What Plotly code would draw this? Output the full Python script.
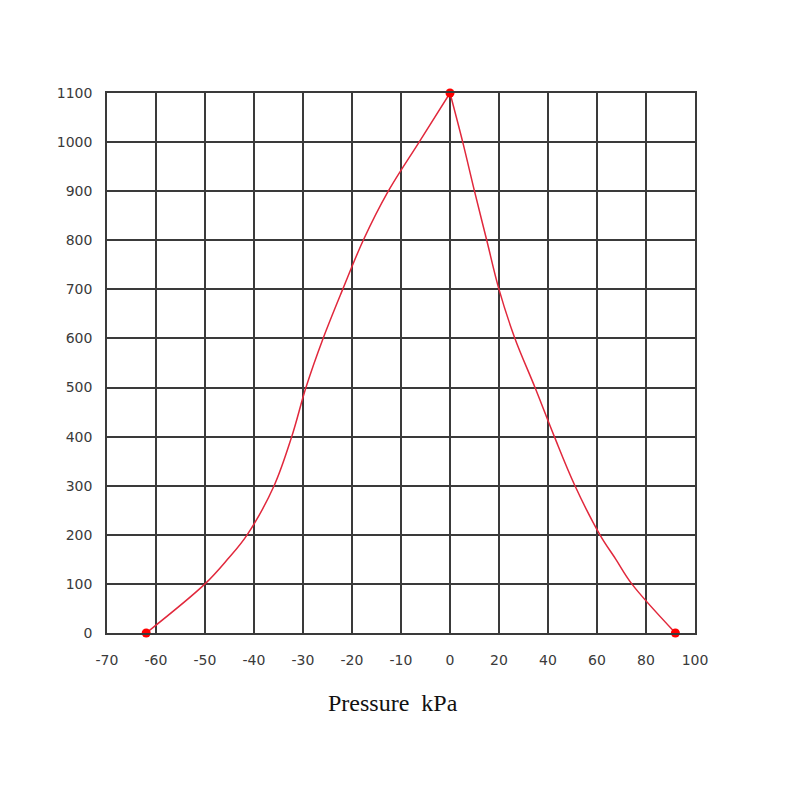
import plotly.graph_objects as go

# Pressure (kPa) vs value
left_pressure = [-62, -50, -45.4, -41.4, -35.9, -32.3, -29.4, -25.9, -21.9, -17.7,
                 -12.6, -6.3, 0]
left_values = [0, 100, 150, 200, 300, 400, 500, 600, 700, 800, 900, 1000, 1100]

right_pressure = [0, 5.2, 10, 15, 20, 26.5, 34.7, 42.6, 51.0, 61.2, 67.7, 74.2, 92]
right_values = [1100, 1000, 900, 800, 700, 600, 500, 400, 300, 200, 150, 100, 0]

marker_pressure = [-62, 0, 92]
marker_values = [0, 1100, 0]

x_tick_labels = ["-70", "-60", "-50", "-40", "-30", "-20", "-10", "0",
                 "20", "40", "60", "80", "100"]
y_tick_values = list(range(0, 1101, 100))


def to_grid(p):
    # piecewise axis: 10 kPa per cell below zero, 20 kPa per cell above
    return (p + 70) / 10 if p <= 0 else 7 + p / 20


line_style = dict(color="rgb(225,40,60)", width=1.5, shape="spline", smoothing=1.0)

fig = go.Figure()
fig.add_trace(go.Scatter(
    x=[to_grid(p) for p in left_pressure], y=left_values,
    mode="lines", line=line_style, hoverinfo="skip", showlegend=False))
fig.add_trace(go.Scatter(
    x=[to_grid(p) for p in right_pressure], y=right_values,
    mode="lines", line=line_style, hoverinfo="skip", showlegend=False))
fig.add_trace(go.Scatter(
    x=[to_grid(p) for p in marker_pressure], y=marker_values,
    mode="markers", marker=dict(color="red", size=9),
    cliponaxis=False, showlegend=False))

axis_common = dict(showgrid=True, gridcolor="#3a3a3a", gridwidth=1.5,
                   showline=True, linecolor="#3a3a3a", linewidth=1.5, mirror=True,
                   zeroline=False, ticks="",
                   tickfont=dict(family="DejaVu Sans", size=14, color="#3a3a3a"))

fig.update_xaxes(range=[0, 12], tickmode="array",
                 tickvals=list(range(len(x_tick_labels))), ticktext=x_tick_labels,
                 ticklabelstandoff=13, **axis_common)
fig.update_yaxes(range=[0, 1100], tickmode="array", tickvals=y_tick_values,
                 ticklabelstandoff=10, **axis_common)

fig.add_annotation(text="Pressure  kPa", xref="paper", yref="paper",
                   x=0.486, y=-0.130, xanchor="center", yanchor="middle",
                   showarrow=False,
                   font=dict(family="Liberation Serif", size=24, color="#111111"))

fig.update_layout(width=784, height=784, plot_bgcolor="white", paper_bgcolor="white",
                  margin=dict(l=99, r=97, t=85, b=159))

fig.write_html("out.html")
